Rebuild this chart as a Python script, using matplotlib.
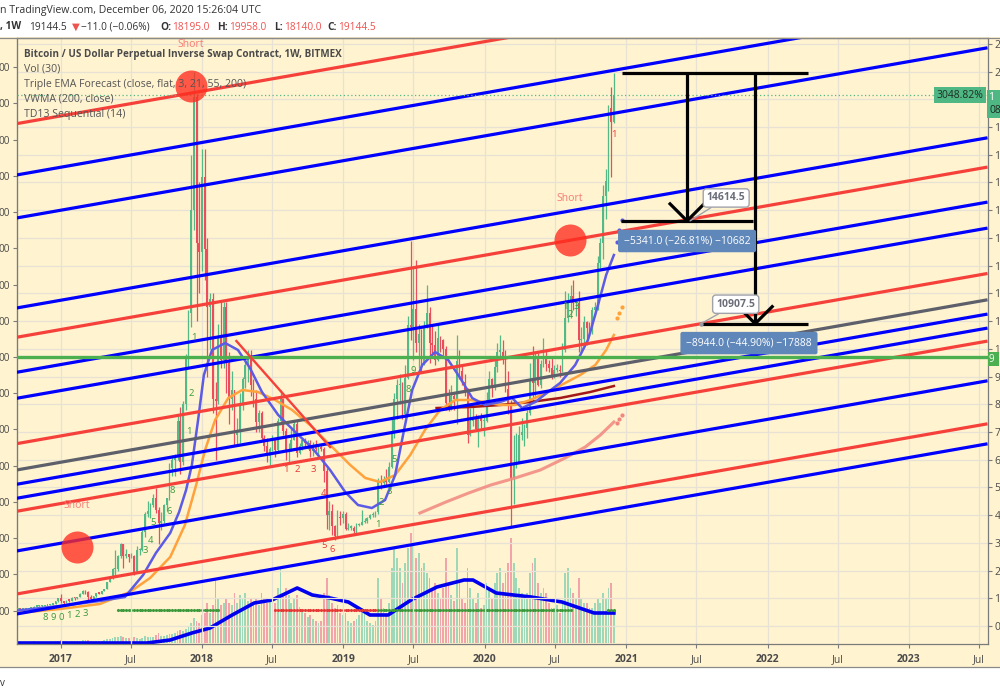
import numpy as np
import pandas as pd
import matplotlib
matplotlib.use("Agg")
import matplotlib.pyplot as plt
import matplotlib.dates as mdates
from matplotlib.patches import Rectangle
from matplotlib.lines import Line2D

plt.rcParams['font.family'] = ['Open Sans', 'DejaVu Sans']

# ------------------------------------------------------------------ data
first_week = "2016-09-12"
first_open = 607.0

close_2016 = [609, 604, 611, 617, 638, 655, 700, 704, 705, 729, 736, 764, 775, 790, 890, 998]
high_2016 = [612, 610, 612, 620, 641, 660, 710, 742, 740, 752, 742, 770, 780, 795, 900, 1000]
low_2016 = [603, 591, 600, 606, 615, 628, 650, 680, 690, 690, 720, 727, 754, 760, 790, 880]

close_2017 = [905, 820, 920, 915, 1025, 1000, 1050, 1150, 1270, 1230, 1040, 970, 1080, 1180, 1170, 1250,
              1350, 1590, 1720, 2050, 2050, 2520, 2950, 2520, 2590, 2500, 2520, 1930, 2750, 2750, 3400,
              4050, 4150, 4350, 4600, 4200, 3700, 3800, 4350, 4600, 5700, 6000, 6150, 7400, 5900, 8000,
              9700, 11300, 15000, 19100, 13800, 13500]
high_2017 = [1150, 910, 935, 935, 1030, 1060, 1060, 1200, 1290, 1290, 1250, 1110, 1090, 1200, 1220, 1260,
             1350, 1600, 1750, 2100, 2750, 2550, 3000, 2950, 2770, 2600, 2630, 2550, 2900, 2800, 3480,
             4100, 4500, 4420, 4750, 4980, 4280, 4100, 4400, 4620, 5880, 6180, 6190, 7600, 7900, 8100,
             9800, 11400, 17000, 20000, 19200, 16000]
low_2017 = [820, 760, 820, 880, 910, 940, 980, 1050, 1140, 1160, 950, 890, 930, 1060, 1140, 1150,
            1250, 1340, 1580, 1700, 1850, 2000, 2460, 2100, 2470, 2300, 2470, 1850, 1900, 2560, 2700,
            3200, 3950, 3900, 4300, 4080, 2970, 3450, 3700, 4140, 4550, 5400, 5400, 6000, 5500, 5800,
            7800, 9300, 10800, 14300, 11000, 12000]

close_2018 = [16200, 13600, 11500, 11800, 8200, 8100, 10400, 9600, 11500, 9500, 8200, 8500, 6900, 7000,
              8000, 8900, 9400, 9700, 8700, 8200, 7350, 7700, 6800, 6500, 6150, 6400, 6750, 6350, 7400,
              8200, 7050, 6300, 6400, 6700, 7300, 6250, 6500, 6700, 6600, 6600, 6300, 6500, 6400, 6450,
              6400, 5600, 4000, 4150, 3600, 3250, 3950, 3900, 4050]
high_2018 = [17200, 17200, 14000, 12000, 12000, 8800, 10900, 11750, 11700, 11700, 9900, 9200, 8500, 7500,
             8400, 9000, 9750, 9950, 9950, 8900, 8500, 7800, 7750, 6900, 6800, 6450, 6900, 6800, 7500,
             8500, 8200, 7150, 6600, 7100, 7400, 7400, 6600, 6800, 6800, 6700, 6700, 6650, 6700, 6500,
             6550, 6450, 5700, 4500, 4400, 3650, 4200, 4150, 4150]
low_2018 = [12800, 12500, 9000, 10000, 7700, 6000, 8000, 9300, 9300, 8400, 7300, 7800, 6500, 6500,
            6600, 7800, 8600, 8800, 8300, 7900, 7000, 7000, 6700, 6300, 5900, 5800, 6300, 6100, 6300,
            7300, 6900, 6000, 5900, 6300, 6700, 6100, 6200, 6350, 6500, 6400, 6100, 6150, 6300, 6150,
            6300, 5200, 3500, 3450, 3300, 3120, 3200, 3650, 3700]

close_2019 = [3500, 3550, 3550, 3420, 3650, 3650, 3750, 3800, 3900, 4000, 4000, 4100, 5200, 5150, 5300,
              5200, 5750, 7000, 8200, 8700, 8700, 7650, 8950, 10850, 10800, 11450, 10200, 10550, 9500,
              10800, 11300, 10200, 10150, 9600, 10400, 10300, 10000, 8050, 7900, 8300, 8200, 9550, 9200,
              8800, 8500, 6900, 7400, 7500, 7100, 7500, 7400, 7400]
high_2019 = [4100, 3700, 3650, 3600, 3700, 3720, 4200, 3900, 3950, 4050, 4100, 4150, 5350, 5450, 5400,
             5650, 5900, 7500, 8400, 8900, 9100, 8800, 9400, 11200, 13900, 12900, 13200, 10900, 10700,
             11000, 12300, 11500, 10900, 10650, 10900, 10450, 10350, 10100, 8550, 8700, 8450, 10500, 9950,
             9400, 9100, 8600, 7850, 7900, 7650, 7600, 7700, 7550]
low_2019 = [3450, 3450, 3480, 3350, 3350, 3600, 3650, 3700, 3700, 3850, 3950, 3950, 4050, 4950, 5000,
            5050, 5150, 5700, 6800, 7450, 8000, 7450, 7550, 8900, 10300, 9600, 9900, 9300, 9150,
            9400, 10750, 9500, 9750, 9400, 9550, 9900, 9700, 7800, 7750, 7800, 7800, 7300, 8900,
            8700, 8300, 6600, 6850, 7200, 7050, 6450, 7150, 6850]

close_2020 = [8150, 8900, 8600, 9350, 9900, 9900, 9650, 8550, 8000, 5350, 5800, 5900, 6900, 7000, 7150,
              7700, 8900, 8750, 9700, 8700, 9450, 9750, 9450, 9300, 9050, 9250, 9250, 9200, 9950, 11100,
              11700, 11900, 11650, 11650, 10300, 10350, 10950, 10750, 10650, 11400, 11500, 13100, 13800,
              15500, 16050, 18700, 18195, 19144.5]
high_2020 = [8450, 9200, 8950, 9600, 10200, 10500, 10300, 9950, 9200, 8150, 6900, 6950, 7200, 7500, 7300,
             7800, 9500, 10100, 9900, 9850, 9600, 10400, 9980, 9600, 9700, 9400, 9450, 9400, 10200, 12100,
             12000, 12300, 12500, 11800, 12100, 10800, 11200, 11000, 10950, 11500, 11700, 13350, 14000,
             15900, 16500, 18800, 19450, 19958]
low_2020 = [7350, 8100, 8250, 8500, 9150, 9700, 9450, 8450, 7650, 3600, 4400, 5700, 5900, 6700, 6500,
            6800, 7600, 8100, 8200, 8650, 8600, 9350, 9200, 9150, 8900, 8950, 9150, 9000, 9150, 9900,
            10950, 11100, 11400, 11200, 9900, 9900, 10200, 10150, 10500, 10550, 11200, 11400, 12900,
            13250, 14700, 15700, 16200, 18140]

# weekly volume (arbitrary units, as bar heights)
vol_2016 = [1, 1, 1, 1, 1, 1, 2, 1, 1, 1, 1, 1, 1, 1, 2, 2]
vol_2017 = [3, 2, 2, 1, 2, 2, 2, 2, 3, 3, 3, 2, 2, 2, 2, 2, 3, 4, 4, 5, 6, 6, 7, 6, 5, 5, 4, 6, 5, 4, 5,
            7, 6, 6, 6, 8, 10, 7, 7, 8, 9, 9, 10, 12, 13, 12, 14, 16, 20, 25, 22, 20]
vol_2018 = [28, 30, 40, 30, 38, 65, 45, 38, 40, 45, 40, 38, 50, 40, 48, 45, 50, 42, 45, 40, 44, 38, 50,
            45, 40, 42, 44, 40, 55, 75, 50, 55, 48, 40, 45, 48, 36, 32, 30, 26, 28, 24, 22, 20, 22, 50,
            65, 48, 40, 35, 38, 30, 28]
vol_2019 = [30, 22, 20, 22, 24, 28, 35, 30, 22, 20, 18, 22, 65, 45, 35, 30, 40, 75, 95, 85, 75, 60, 80,
            95, 110, 100, 85, 90, 75, 80, 70, 65, 55, 60, 50, 45, 55, 85, 60, 48, 42, 95, 60, 45, 40, 75,
            55, 45, 40, 50, 35, 38]
vol_2020 = [60, 55, 45, 60, 70, 75, 60, 70, 80, 105, 80, 65, 55, 50, 45, 50, 70, 80, 85, 60, 50, 55, 50,
            40, 35, 35, 38, 30, 40, 70, 75, 55, 50, 45, 65, 45, 40, 40, 35, 35, 40, 45, 40, 50, 45, 55,
            60, 30]

# volume moving average (Vol 30)
vma_dates = ["2016-09-12", "2017-08-12", "2017-10-11", "2017-12-06", "2018-01-22", "2018-03-20",
             "2018-05-16", "2018-07-01", "2018-09-04", "2018-10-13", "2018-11-28", "2019-01-14",
             "2019-03-11", "2019-04-27", "2019-06-25", "2019-08-31", "2019-11-09", "2019-12-02",
             "2020-01-31", "2020-04-30", "2020-07-19", "2020-10-10", "2020-11-30"]
vma_vals = [0, 0, 3, 10, 15, 28, 40, 43, 55, 48, 45, 41, 28, 28, 43, 56, 63, 63, 50, 46, 41, 30, 30]

# Triple EMA forecast lines
ema_fast_dates = ["2016-09-12", "2016-12-30", "2017-04-12", "2017-06-16", "2017-08-02", "2017-09-04",
                  "2017-10-11", "2017-11-03", "2017-11-21", "2017-12-06", "2017-12-22", "2018-01-06",
                  "2018-01-27", "2018-03-02", "2018-04-04", "2018-05-05", "2018-06-05", "2018-07-17",
                  "2018-08-30", "2018-10-13", "2018-11-28", "2019-01-06", "2019-02-08", "2019-03-16",
                  "2019-04-19", "2019-05-15", "2019-06-07", "2019-06-28", "2019-07-24", "2019-08-26",
                  "2019-09-29", "2019-10-30", "2019-11-30", "2020-01-02", "2020-02-10", "2020-03-12",
                  "2020-04-07", "2020-05-11", "2020-06-13", "2020-07-14", "2020-08-22", "2020-09-24",
                  "2020-10-20", "2020-11-10", "2020-11-30"]
ema_fast_vals = [560, 722, 902, 1046, 1840, 2633, 3355, 4113, 4906, 5808, 7431, 9055, 9957, 10209, 9957,
                 9307, 8442, 7612, 6999, 6421, 5628, 4834, 4365, 4257, 4545, 5447, 7071, 8514, 9416,
                 9885, 9596, 8947, 8225, 7973, 8081, 8225, 7864, 8081, 8442, 8766, 9416, 10317, 11580,
                 12662, 13384]
ema_mid_dates = ["2016-09-12", "2016-12-30", "2017-04-12", "2017-06-29", "2017-08-20", "2017-10-11",
                 "2017-11-18", "2017-12-17", "2018-01-09", "2018-02-04", "2018-03-10", "2018-04-15",
                 "2018-05-26", "2018-07-09", "2018-08-22", "2018-10-07", "2018-11-28", "2019-01-19",
                 "2019-02-27", "2019-04-06", "2019-05-15", "2019-06-23", "2019-07-31", "2019-09-08",
                 "2019-10-17", "2019-11-25", "2020-01-02", "2020-02-10", "2020-03-20", "2020-04-28",
                 "2020-06-13", "2020-07-27", "2020-09-04", "2020-10-13", "2020-11-10", "2020-11-30"]
ema_mid_vals = [469, 613, 794, 1227, 1732, 2489, 3644, 5087, 6349, 7431, 8225, 8514, 8442, 8153, 7792,
                7251, 6530, 5808, 5339, 5195, 5447, 6169, 7071, 7792, 8153, 8153, 8081, 7973, 7973,
                8153, 8442, 8766, 9055, 9416, 9957, 10498]
ema_slow_dates = ["2019-07-18", "2019-09-23", "2019-11-21", "2020-01-17", "2020-03-20", "2020-05-24",
                  "2020-07-27", "2020-09-17", "2020-10-26", "2020-11-30"]
ema_slow_vals = [4076, 4473, 4798, 5087, 5339, 5628, 6061, 6457, 6890, 7359]
vwma_dates = ["2019-08-30", "2019-11-25", "2020-02-10", "2020-04-28", "2020-07-14", "2020-09-30",
              "2020-11-30"]
vwma_vals = [7864, 7900, 7973, 8081, 8225, 8442, 8658]
forecast_dates = ["2020-12-07", "2020-12-14", "2020-12-21"]
forecast_fast = [13853, 14286, 14646]
forecast_mid = [11111, 11291, 11508]
forecast_slow = [7323, 7468, 7612]

# parallel channel (price at left / right end of the view)
channel_start = "2016-09-09"
channel_end = "2023-07-23"
channel_left = [18121, 16270, 14719, 11472, 10415, 9152, 8214, 6577, 5628, 5112, 4607, 4138, 2706, 1154, 433]
channel_right = [24261, 22410, 20859, 17612, 16555, 15292, 14354, 12717, 11768, 11252, 10747, 10278,
                 8846, 7294, 6573]
channel_kind = ["red", "blue", "blue", "blue", "red", "blue", "blue", "red", "grey", "blue", "blue",
                "red", "blue", "red", "blue"]

support_level = 9722
last_close = 19144.5
trend_dates = ["2018-03-31", "2018-11-28"]
trend_prices = [10281, 6457]

short_dates = ["2017-12-04", "2020-08-08", "2017-02-12"]
short_prices = [19481, 13925, 2850]

# projection drawing
proj_top = 19955.5
proj_top_span = ["2020-12-21", "2022-04-16"]
proj_arrow_dates = ["2021-06-07", "2021-11-30"]
proj_targets = [14614.5, 10907.5]
proj_target_spans = [["2020-12-18", "2021-11-25"], ["2021-07-13", "2022-04-16"]]
proj_labels = ["14614.5", "10907.5"]
proj_stats = ["\u22125341.0 (\u221226.81%) \u221210682", "\u22128944.0 (\u221244.90%) \u221217888"]

# TD sequential counts (candle index, price, text, bullish?)
td_idx = [10, 13, 16, 19, 22, 25, 47, 49, 50, 56, 57, 63, 64, 65,
          99, 103, 109, 113, 113, 116,
          133, 134, 137, 139, 144, 146, 202, 204, 206, 220]
td_price = [325, 325, 325, 397, 433, 469, 2706, 3102, 3716, 4113, 4906, 6999, 8405, 10390,
            5628, 5628, 5628, 4798, 2922, 2742,
            3644, 4450, 4850, 5989, 8514, 9235, 11544, 11250, 11544, 17713]
td_text = ["8", "9", "0", "1", "2", "3", "3", "4", "5", "6", "8", "1", "2", "1",
           "1", "2", "3", "4", "5", "6",
           "1", "2", "3", "5", "8", "9", "1", "2", "3", "1"]
td_bull = [1, 1, 1, 1, 1, 1, 1, 1, 1, 1, 1, 1, 1, 1,
           0, 0, 0, 0, 0, 0,
           1, 1, 1, 1, 1, 1, 1, 1, 1, 0]

squeeze_from = [37, 95, 133, 218]
squeeze_to = [74, 132, 204, 220]
squeeze_on = [1, 0, 1, 1]
squeeze_level = 33

tick_dates = ["2017-01-01", "2017-07-01", "2018-01-01", "2018-07-01", "2019-01-01", "2019-07-01",
              "2020-01-01", "2020-07-01", "2021-01-01", "2021-07-01", "2022-01-01", "2022-07-01",
              "2023-01-01", "2023-07-01"]
tick_labels = ["2017", "Jul", "2018", "Jul", "2019", "Jul", "2020", "Jul", "2021", "Jul", "2022", "Jul",
               "2023", "Jul"]
price_ticks = list(range(0, 21001, 1000))
# the price scale is cropped by the picture edge: only the first digit shows;
# the 19000 label sits under the current-price tag
price_tick_labels = ["0", "1", "2", "3", "4", "5", "6", "7", "8", "9", "1", "1", "1", "1", "1", "1", "1",
                     "1", "1", "", "2", "2"]
left_tick_labels = ["00"] * 16

# ------------------------------------------------------------------ styling
CREAM = '#fff3d0'
GREEN = '#53b987'
RED = '#eb4d5c'
BLUE = '#0000ff'
LRED = '#f5413a'
GREY = '#5d606b'
TXT = '#4a4a4a'
kind_color = {"red": LRED, "blue": BLUE, "grey": GREY}

W, H = 1000, 700


def fx(p):
    return p / W


def fy(p):
    return 1 - p / H


fig = plt.figure(figsize=(10, 7), dpi=100)
fig.patch.set_facecolor('white')
fig.patches.append(Rectangle((0, fy(667)), 1, fy(37) - fy(667), transform=fig.transFigure,
                             facecolor=CREAM, edgecolor='none', zorder=0))
fig.lines.append(Line2D([0, 1], [fy(667), fy(667)], transform=fig.transFigure, color='#8a8a8a', lw=0.9))
fig.lines.append(Line2D([0, 1], [fy(37.5), fy(37.5)], transform=fig.transFigure, color='#8a8a8a', lw=0.9))

rect = [fx(16.5), fy(644), fx(987.5) - fx(16.5), fy(38) - fy(644)]
axv = fig.add_axes(rect, label='volume')
ax = fig.add_axes(rect, label='price')
axv.set_zorder(1)
ax.set_zorder(2)
axv.axis('off')
ax.patch.set_visible(False)

xl = mdates.date2num(pd.Timestamp(channel_start))
xr = mdates.date2num(pd.Timestamp(channel_end))
ymin, ymax = -649, 21212


def d(s):
    return mdates.date2num(pd.to_datetime(s))


closes = np.array(close_2016 + close_2017 + close_2018 + close_2019 + close_2020, float)
highs = np.array(high_2016 + high_2017 + high_2018 + high_2019 + high_2020, float)
lows = np.array(low_2016 + low_2017 + low_2018 + low_2019 + low_2020, float)
vols = np.array(vol_2016 + vol_2017 + vol_2018 + vol_2019 + vol_2020, float)
opens = np.r_[first_open, closes[:-1]]
dates = pd.date_range(first_week, periods=len(closes), freq='7D')
xd = mdates.date2num(dates)
up = closes >= opens
ccol = np.where(up, GREEN, RED)

# volume
axv.bar(xd, vols, width=4.6, color=np.where(up, '#9fd8b8', '#f3a3aa'), linewidth=0, zorder=1)
axv.plot(d(vma_dates), vma_vals, color='#0000ee', lw=2.6, zorder=3, solid_joinstyle='round')
for a, b, on in zip(squeeze_from, squeeze_to, squeeze_on):
    axv.scatter(xd[a:b + 1], [squeeze_level] * (b + 1 - a), s=5, marker='o',
                color='#3c9a3c' if on else '#e53935', zorder=4, linewidths=0)
axv.set_xlim(xl, xr)
axv.set_ylim(-1, 605)

# grid
ax.set_xticks(d(tick_dates))
ax.set_yticks(price_ticks)
ax.grid(True, color='#e7e2d4', lw=0.9)
ax.set_axisbelow(True)

# candles
ax.vlines(xd, lows, highs, colors=ccol, lw=0.9, zorder=3)
body = np.maximum(np.abs(closes - opens), 45)
ax.bar(xd, body, bottom=np.minimum(opens, closes), width=4.6, color=ccol, linewidth=0, zorder=3)

# indicators
ax.plot(d(ema_slow_dates), ema_slow_vals, color='#f2877f', lw=2.2, alpha=0.85, zorder=4)
ax.plot(d(vwma_dates), vwma_vals, color='#a31818', lw=1.8, zorder=4)
ax.plot(d(ema_mid_dates), ema_mid_vals, color='#ffa23c', lw=1.8, zorder=4)
ax.plot(d(ema_fast_dates), ema_fast_vals, color='#5b5be6', lw=1.8, zorder=4)
ax.scatter(d(forecast_dates), forecast_fast, s=9, color='#5b5be6', zorder=4, linewidths=0)
ax.scatter(d(forecast_dates), forecast_mid, s=9, color='#ffa23c', zorder=4, linewidths=0)
ax.scatter(d(forecast_dates), forecast_slow, s=9, color='#f2877f', zorder=4, linewidths=0)

# channel
for lv, rv, k in zip(channel_left, channel_right, channel_kind):
    ax.plot([xl, xr], [lv, rv], color=kind_color[k], lw=2.3, zorder=5, solid_capstyle='butt')
ax.axhline(support_level, color='#4caf50', lw=2.4, zorder=5)
ax.axhline(last_close, color='#53b987', lw=0.9, ls=(0, (1, 2)), zorder=5)
ax.plot(d(trend_dates), trend_prices, color=LRED, lw=1.7, zorder=5)

# TD sequential numbers
for i, p, t, b in zip(td_idx, td_price, td_text, td_bull):
    ax.text(xd[i], p, t, color='#3c9a3c' if b else '#e53935', fontsize=6.8, ha='center', va='center',
            zorder=6)

# short signals
ax.scatter(d(short_dates), short_prices, s=(32 * 0.72) ** 2, color='#ff2d1f', alpha=0.78, zorder=8,
           linewidths=0)
for sd, sp in zip(short_dates, short_prices):
    ax.annotate("Short", (d(sd), sp), xytext=(0, 30), textcoords='offset points', ha='center',
                va='center', color='#f77b72', fontsize=7.5, zorder=9)

# projection arrows
dpp = (xr - xl) / 971.0
ppp = (ymax - ymin) / 606.0
ax.plot(d(proj_top_span), [proj_top, proj_top], color='black', lw=2.3, zorder=7, solid_capstyle='butt')
for ad, tgt, span, lab, stat, k in zip(proj_arrow_dates, proj_targets, proj_target_spans, proj_labels,
                                       proj_stats, range(2)):
    xa = d(ad)
    ax.plot([xa, xa], [proj_top, tgt], color='black', lw=2.3, zorder=7, solid_capstyle='butt')
    ax.plot([xa - 17 * dpp, xa, xa + 17 * dpp], [tgt + 17 * ppp, tgt, tgt + 17 * ppp], color='black',
            lw=2.3, zorder=7)
    ax.plot(d(span), [tgt, tgt], color='black', lw=2.3, zorder=7, solid_capstyle='butt')
    x0 = d(span[0])
    if k == 0:
        ax.annotate(lab, (xa + 3 * dpp, tgt), xytext=(26, 16.5), textcoords='offset points', ha='center',
                    va='center', fontsize=7.5, fontweight='bold', color='#6b6e78', zorder=9,
                    bbox=dict(boxstyle='round,pad=0.35,rounding_size=0.3', fc='white', ec='#a0a3ab', lw=1),
                    arrowprops=dict(arrowstyle='-', color='#a0a3ab', lw=1, shrinkA=0, shrinkB=0))
        ax.annotate(stat, (xa, tgt), xytext=(0, -14.5), textcoords='offset points', ha='center', va='center',
                    fontsize=7.5, color='white', zorder=9,
                    bbox=dict(boxstyle='round,pad=0.55,rounding_size=0.2', fc='#5f87b9', ec='none'))
    else:
        ax.scatter([x0], [tgt], s=10, color='#9598a1', zorder=9, linewidths=0)
        ax.annotate(lab, (x0, tgt), xytext=(25, 14), textcoords='offset points', ha='center',
                    va='center', fontsize=7.5, fontweight='bold', color='#6b6e78', zorder=9,
                    bbox=dict(boxstyle='round,pad=0.35,rounding_size=0.3', fc='white', ec='#a0a3ab', lw=1),
                    arrowprops=dict(arrowstyle='-', color='#a0a3ab', lw=1, shrinkA=0, shrinkB=0))
        ax.annotate(stat, (xa, tgt), xytext=(-4.5, -14), textcoords='offset points', ha='center', va='center',
                    fontsize=7.5, color='white', zorder=9,
                    bbox=dict(boxstyle='round,pad=0.55,rounding_size=0.2', fc='#5f87b9', ec='none'))

# price percentage label at the right
ax.annotate("3048.82%", (xr, last_close), xytext=(-3, 0), textcoords='offset points', ha='right',
            va='center', fontsize=7.5, color='#1e2b22', zorder=9,
            bbox=dict(boxstyle='square,pad=0.25', fc='#4fb783', ec='none'))

# axes limits and ticks
ax.set_xlim(xl, xr)
ax.set_ylim(ymin, ymax)
ax.yaxis.tick_right()
ax.set_yticklabels(price_tick_labels)
ax.set_xticklabels(tick_labels)
for lab, txt in zip(ax.get_xticklabels(), tick_labels):
    lab.set_fontweight('bold' if txt != 'Jul' else 'normal')
ax.tick_params(axis='both', colors='#7b7b7b', labelcolor=TXT, labelsize=7.5, length=3, width=0.8)
ax.tick_params(axis='x', pad=4)
ax.tick_params(axis='y', pad=2)
ax.get_yticklabels()[10].set_fontsize(6.8)   # partly hidden by the level tag below it
for s in ax.spines.values():
    s.set_color('#7b7b7b')
    s.set_linewidth(0.9)

left_scale = ax.secondary_yaxis('left', functions=(lambda p: (p - 552.0) / 1307.4,
                                                   lambda v: v * 1307.4 + 552.0))
left_scale.set_yticks(list(range(16)))
left_scale.set_yticklabels(left_tick_labels)
left_scale.tick_params(colors='#7b7b7b', labelcolor=TXT, labelsize=7.2, length=3, width=0.8, pad=1.5)
left_scale.spines['left'].set_color('#7b7b7b')

# right axis current-price & level tags (cropped by the picture edge)
fig.text(fx(989), fy(97.5), "1 ", fontsize=7.5, color='white', ha='left', va='center',
         bbox=dict(boxstyle='square,pad=0.2', fc='#4fb783', ec='none'))
fig.text(fx(989.5), fy(110.5), "08", fontsize=7.5, color='#1e2b22', ha='left', va='center',
         bbox=dict(boxstyle='square,pad=0.2', fc='#4fb783', ec='none'))
fig.text(fx(989), fy(359), "9 ", fontsize=7, color='white', ha='left', va='center',
         bbox=dict(boxstyle='square,pad=0.15', fc='#4caf50', ec='none'))

# legend block
fig.text(fx(24), fy(54), "Bitcoin / US Dollar Perpetual Inverse Swap Contract, 1W, BITMEX", fontsize=7.1,
         fontweight='bold', color=TXT, va='center')
for i, t in enumerate(["Vol (30)", "Triple EMA Forecast (close, flat, 3, 21, 55, 200)", "VWMA (200, close)",
                       "TD13 Sequential (14)"]):
    fig.text(fx(24), fy(69.3 + 15 * i), t, fontsize=7.6, color='#555555', va='center')

# header
fig.text(fx(0), fy(11), "n TradingView.com, December 06, 2020 15:26:04 UTC", fontsize=7.6, color='#333333',
         va='center')
hdr = [(", 1W", 0, '#333333', 'bold'), ("19144.5", 29, '#333333', 'normal'), ("\u25bc", 72, '#ef5350', 'normal'),
       ("\u221211.0 (\u22120.06%)", 81, '#333333', 'normal'), ("O:", 160, '#333333', 'bold'),
       ("18195.0", 172.5, '#ef5350', 'normal'), ("H:", 217, '#333333', 'bold'),
       ("19958.0", 229, '#ef5350', 'normal'), ("L:", 274, '#333333', 'bold'),
       ("18140.0", 284, '#ef5350', 'normal'), ("C:", 327, '#333333', 'bold'),
       ("19144.5", 338, '#ef5350', 'normal')]
for t, x, c, w in hdr:
    fig.text(fx(x), fy(27), t, fontsize=7.3, color=c, fontweight=w, va='center')
fig.text(fx(0.5), fy(683), "v", fontsize=7, color='#333333', va='center')

fig.savefig("out.png", dpi=100, facecolor=fig.get_facecolor())
